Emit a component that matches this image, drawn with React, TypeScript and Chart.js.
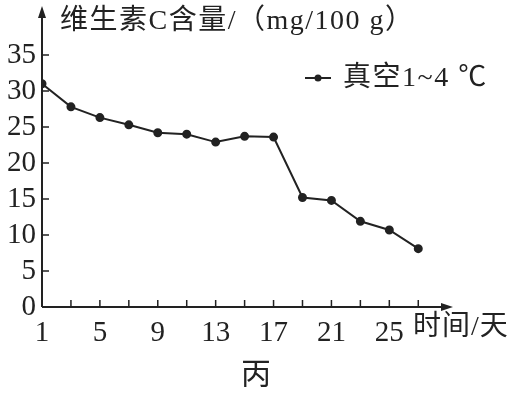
import React, { useEffect, useRef } from "react";
import { Chart, registerables } from "chart.js";

Chart.register(...registerables);

const days = [1, 3, 5, 7, 9, 11, 13, 15, 17, 19, 21, 23, 25, 27];
const vitaminC = [31.0, 27.8, 26.3, 25.3, 24.2, 24.0, 22.9, 23.7, 23.6, 15.2, 14.8, 11.9, 10.7, 8.1];
const xTickLabels = [1, 5, 9, 13, 17, 21, 25];
const xTickMarks = [3, 5, 7, 9, 11, 13, 15, 17, 19, 21, 23, 25, 27];
const yTickLabels = [0, 5, 10, 15, 20, 25, 30, 35];
const seriesLabel = "真空1~4 ℃";
const yTitle = "维生素C含量/（mg/100 g）";
const xTitle = "时间/天";
const caption = "丙";

const INK = "#222";
const SERIF = "'Liberation Serif', 'Noto Sans CJK SC', serif";

const axesPlugin = {
  id: "axesPlugin",
  afterDraw(chart: any) {
    const ctx = chart.ctx;
    const xs = chart.scales.x;
    const ys = chart.scales.y;
    const x0 = xs.getPixelForValue(1);
    const y0 = ys.getPixelForValue(0);
    const top = chart.chartArea.top;
    const right = chart.chartArea.right;
    ctx.save();
    ctx.strokeStyle = INK;
    ctx.fillStyle = INK;
    ctx.lineWidth = 2;
    ctx.beginPath();
    ctx.moveTo(x0, y0);
    ctx.lineTo(x0, top + 8);
    ctx.moveTo(x0, y0);
    ctx.lineTo(right - 8, y0);
    ctx.stroke();
    // arrowheads
    ctx.beginPath();
    ctx.moveTo(x0, top);
    ctx.lineTo(x0 - 4, top + 12);
    ctx.lineTo(x0 + 4, top + 12);
    ctx.closePath();
    ctx.fill();
    ctx.beginPath();
    ctx.moveTo(right, y0);
    ctx.lineTo(right - 12, y0 - 4);
    ctx.lineTo(right - 12, y0 + 4);
    ctx.closePath();
    ctx.fill();
    // tick marks
    ctx.lineWidth = 1.5;
    ctx.beginPath();
    for (const v of yTickLabels) {
      if (v === 0) continue;
      const py = ys.getPixelForValue(v);
      ctx.moveTo(x0, py);
      ctx.lineTo(x0 + 7, py);
    }
    for (const v of xTickMarks) {
      const px = xs.getPixelForValue(v);
      ctx.moveTo(px, y0);
      ctx.lineTo(px, y0 - 7);
    }
    ctx.stroke();
    // texts
    ctx.textBaseline = "middle";
    ctx.textAlign = "left";
    ctx.font = `28px ${SERIF}`;
    (ctx as any).letterSpacing = "1.5px";
    ctx.fillText(yTitle, 60, 22);
    ctx.fillText(seriesLabel, 343, 79);
    (ctx as any).letterSpacing = "1px";
    ctx.fillText(xTitle, 413, 328);
    (ctx as any).letterSpacing = "0px";
    ctx.textAlign = "center";
    ctx.font = `30px ${SERIF}`;
    ctx.fillText(caption, 256, 376);
    // legend symbol
    ctx.lineWidth = 2;
    ctx.beginPath();
    ctx.moveTo(305, 78);
    ctx.lineTo(331, 78);
    ctx.stroke();
    ctx.beginPath();
    ctx.arc(318, 78, 3.5, 0, Math.PI * 2);
    ctx.fill();
    ctx.restore();
  },
};

export default function App() {
  const ref = useRef<HTMLCanvasElement>(null);
  useEffect(() => {
    if (!ref.current) return;
    const chart = new Chart(ref.current, {
      type: "line",
      data: {
        datasets: [
          {
            label: seriesLabel,
            data: days.map((d, i) => ({ x: d, y: vitaminC[i] })),
            borderColor: INK,
            backgroundColor: INK,
            borderWidth: 2,
            pointRadius: 3.5,
            pointBackgroundColor: INK,
            pointBorderColor: INK,
            tension: 0,
          },
        ],
      },
      options: {
        responsive: false,
        animation: false,
        layout: { padding: { top: 5, right: 61, left: 0, bottom: 0 } },
        plugins: { legend: { display: false }, tooltip: { enabled: false } },
        scales: {
          x: {
            type: "linear",
            min: 1,
            max: 29.4,
            grid: { display: false, drawTicks: false },
            border: { display: false },
            afterBuildTicks: (s: any) => {
              s.ticks = xTickLabels.map((v) => ({ value: v }));
            },
            afterFit: (s: any) => {
              s.height = 86;
              s.paddingLeft = 0;
              s.paddingRight = 0;
            },
            ticks: {
              color: INK,
              font: { family: SERIF, size: 29 },
              padding: 9,
              maxRotation: 0,
              autoSkip: false,
            },
          },
          y: {
            min: 0,
            max: 41.8,
            grid: { display: false, drawTicks: false },
            border: { display: false },
            afterBuildTicks: (s: any) => {
              s.ticks = yTickLabels.map((v) => ({ value: v }));
            },
            afterFit: (s: any) => {
              s.width = 42;
              s.paddingTop = 0;
              s.paddingBottom = 0;
            },
            ticks: {
              color: INK,
              font: { family: SERIF, size: 29 },
              padding: 6,
              autoSkip: false,
            },
          },
        },
      },
      plugins: [axesPlugin],
    });
    return () => chart.destroy();
  }, []);
  return (
    <div style={{ position: "fixed", left: 0, top: 0, width: 514, height: 393, background: "#fff" }}>
      <canvas ref={ref} width={514} height={393} style={{ display: "block" }} />
    </div>
  );
}
